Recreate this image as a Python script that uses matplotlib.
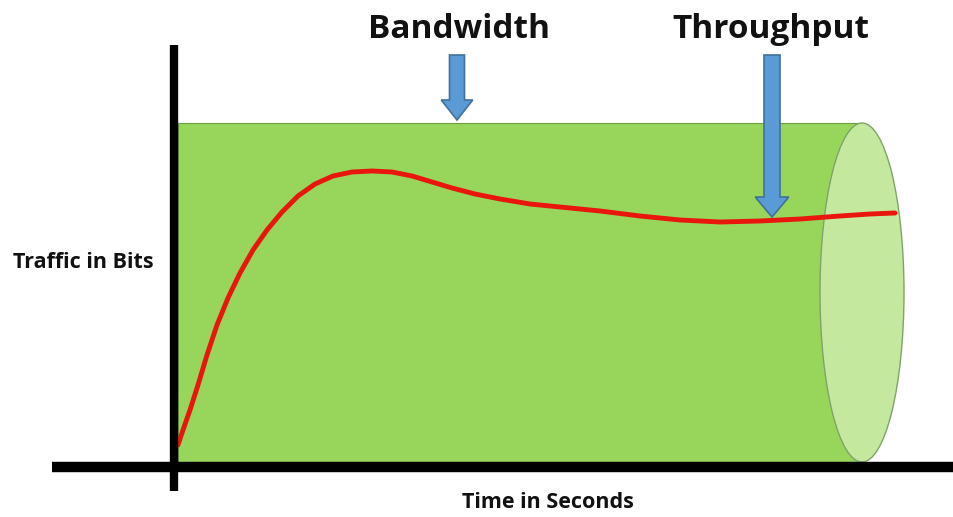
import matplotlib
matplotlib.use("Agg")
import matplotlib.pyplot as plt
from matplotlib.patches import Rectangle, Ellipse, FancyArrow

# Data: throughput curve (time, traffic) in drawing units
time_pts = [178, 183, 190, 198, 207, 217, 228, 240, 253, 267, 282, 298, 315,
            333, 352, 372, 392, 412, 432, 452, 475, 500, 530, 560, 600, 640,
            680, 720, 760, 800, 840, 870, 895]
traffic_pts = [445, 430, 410, 385, 355, 325, 298, 273, 250, 230, 212, 196, 184,
               176, 172, 171, 172, 176, 182, 188, 194, 199, 204, 207, 211, 216,
               220, 222, 221, 219, 216, 214, 213]

labels = {"bandwidth": "Bandwidth", "throughput": "Throughput",
          "y": "Traffic in Bits", "x": "Time in Seconds"}

fig = plt.figure(figsize=(9.54, 5.17), dpi=100)
ax = fig.add_axes([0, 0, 1, 1])
ax.set_xlim(0, 954)
ax.set_ylim(517, 0)
ax.axis("off")

font = ["Open Sans", "DejaVu Sans"]

# pipe body
ax.add_patch(Rectangle((178, 123), 684, 339, facecolor="#97D65A",
                       edgecolor="#6E9E45", lw=0.8, zorder=1))
# pipe end
ax.add_patch(Ellipse((862, 292.5), 84, 339, facecolor="#C4E89E",
                     edgecolor="#7FA36A", lw=1.0, zorder=2))
# red curve
ax.plot(time_pts, traffic_pts, color="#E8160C", lw=3.5,
        solid_capstyle="round", solid_joinstyle="round", zorder=3)
# axes lines
ax.plot([52, 954], [467, 467], color="black", lw=7.5, solid_capstyle="butt", zorder=4)
ax.plot([174, 174], [45, 491], color="black", lw=6, solid_capstyle="butt", zorder=4)

# arrows
for xc, y0, y1, sw in [(457, 55, 120, 15), (772, 55, 217, 16)]:
    ax.add_patch(FancyArrow(xc, y0, 0, y1 - y0, width=sw, head_width=sw * 2.1,
                            head_length=20, length_includes_head=True,
                            facecolor="#5B9BD5", edgecolor="#41719C", lw=1.2,
                            zorder=5))

ax.text(459, 30, labels["bandwidth"], ha="center", va="center", fontsize=24,
        fontweight="bold", family=font, color="#111111")
ax.text(771, 30, labels["throughput"], ha="center", va="center", fontsize=24,
        fontweight="bold", family=font, color="#111111")
ax.text(83, 262, labels["y"], ha="center", va="center", fontsize=15.5,
        fontweight="bold", family=font, color="#111111")
ax.text(548, 503, labels["x"], ha="center", va="center", fontsize=15.5,
        fontweight="bold", family=font, color="#111111")

fig.savefig("out.png", dpi=100)
